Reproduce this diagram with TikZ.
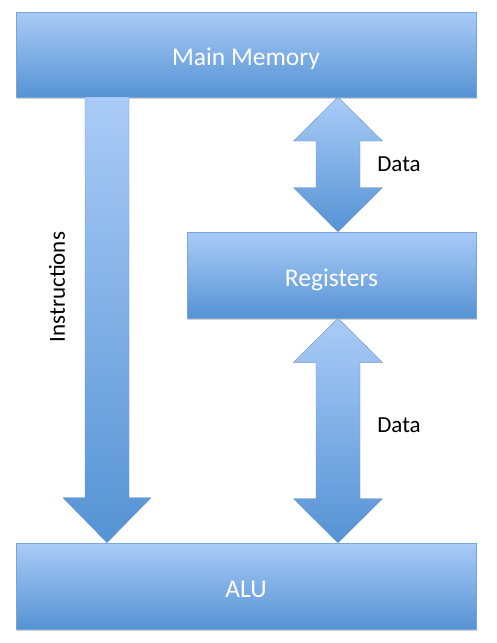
\documentclass[tikz,border=0pt]{standalone}
\usepackage{fontspec}
\setmainfont{Carlito}
\usetikzlibrary{calc,shadows}
\definecolor{gtop}{HTML}{AACBF7}
\definecolor{gbot}{HTML}{5593D4}
\definecolor{gedge}{HTML}{78A5DC}
\tikzset{
  blockbox/.style={rectangle, draw=gedge, line width=0.6pt, top color=gtop, bottom color=gbot,
    text=white, font=\fontsize{25.5}{30}\selectfont, inner sep=0pt,
    text height=22pt, text depth=0pt,
    drop shadow={shadow xshift=1.2pt, shadow yshift=-1.8pt, opacity=0.3, fill=black!60}},
  blockarrow/.style={draw=gedge!90!black, line width=0.4pt, shading=axis, top color=gtop, bottom color=gbot},
  lbl/.style={text=black, font=\fontsize{23}{28}\selectfont, inner sep=0pt}
}
\begin{document}
\begin{tikzpicture}[x=1pt,y=-1pt]
\path[use as bounding box] (0,0) rectangle (496,643);
% boxes
\node[blockbox, minimum width=460pt, minimum height=85pt] (mem) at (246,54.5) {Main Memory};
\node[blockbox, minimum width=289pt, minimum height=86pt] (reg) at (331.5,275) {Registers};
\node[blockbox, minimum width=460pt, minimum height=86pt] (alu) at (246,586) {ALU};
% anchor coordinates for arrows
\coordinate (ia) at (107,97);
\coordinate (ib) at (ia |- alu.north);
\coordinate (da) at (338,97);
\coordinate (db) at (da |- reg.north);
\coordinate (ea) at (da |- reg.south);
\coordinate (eb) at (da |- alu.north);
% Instructions arrow
\draw[blockarrow] (ia) ++(-22,0) -- ($(ib)+(-22,-45)$) -- ($(ib)+(-44,-45)$) -- (ib)
  -- ($(ib)+(44,-45)$) -- ($(ib)+(22,-45)$) -- ($(ia)+(22,0)$) -- cycle;
% Data arrow (memory <-> registers)
\draw[blockarrow] (da) -- ($(da)+(44.5,44)$) -- ($(da)+(22,44)$) -- ($(db)+(22,-44)$)
  -- ($(db)+(44.5,-44)$) -- (db) -- ($(db)+(-44.5,-44)$) -- ($(db)+(-22,-44)$)
  -- ($(da)+(-22,44)$) -- ($(da)+(-44.5,44)$) -- cycle;
% Data arrow (registers <-> ALU)
\draw[blockarrow] (ea) -- ($(ea)+(44.5,44)$) -- ($(ea)+(22,44)$) -- ($(eb)+(22,-44)$)
  -- ($(eb)+(44.5,-44)$) -- (eb) -- ($(eb)+(-44.5,-44)$) -- ($(eb)+(-22,-44)$)
  -- ($(ea)+(-22,44)$) -- ($(ea)+(-44.5,44)$) -- cycle;
% labels
\node[lbl, rotate=90] (instr) at (57,287) {Instructions};
\node[lbl] (d1) at (399,164) {Data};
\node[lbl] (d2) at (399,425) {Data};
\end{tikzpicture}
\end{document}
